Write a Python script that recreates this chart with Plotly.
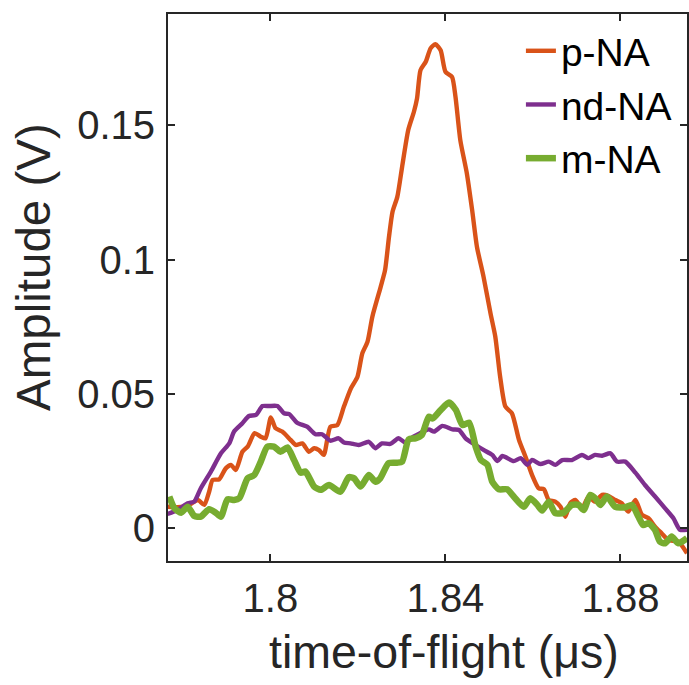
import plotly.graph_objects as go

# p-NA (orange)
p_x = [1.7765, 1.7788, 1.7811, 1.7834, 1.7849, 1.7860, 1.7868, 1.7883, 1.7898, 1.7910,
       1.7921, 1.7936, 1.7948, 1.7964, 1.7978, 1.7989, 1.8001, 1.8012, 1.8027, 1.8046,
       1.8058, 1.8073, 1.8088, 1.8100, 1.8111, 1.8122, 1.8137, 1.8153, 1.8168, 1.8184,
       1.8199, 1.8210, 1.8222, 1.8233, 1.8252, 1.8262, 1.8271, 1.8279, 1.8290, 1.8301,
       1.8315, 1.8328, 1.8335, 1.8343, 1.8355, 1.8366, 1.8377, 1.8389, 1.8400, 1.8415,
       1.8423, 1.8434, 1.8449, 1.8461, 1.8472, 1.8487, 1.8503, 1.8514, 1.8525, 1.8537,
       1.8552, 1.8568, 1.8583, 1.8598, 1.8613, 1.8625, 1.8636, 1.8651, 1.8663, 1.8674,
       1.8685, 1.8697, 1.8712, 1.8727, 1.8742, 1.8758, 1.8773, 1.8788, 1.8803, 1.8818,
       1.8834, 1.8849, 1.8864, 1.8879, 1.8894, 1.8909, 1.8932, 1.8952]
p_y = [0.0080, 0.0078, 0.0083, 0.0105, 0.0087, 0.0136, 0.0180, 0.0182, 0.0223, 0.0236,
       0.0217, 0.0285, 0.0304, 0.0354, 0.0341, 0.0335, 0.0413, 0.0372, 0.0360, 0.0329,
       0.0310, 0.0316, 0.0285, 0.0298, 0.0291, 0.0273, 0.0378, 0.0384, 0.0453, 0.0521,
       0.0564, 0.0651, 0.0695, 0.0788, 0.0899, 0.0961, 0.1085, 0.1178, 0.1234, 0.1346,
       0.1483, 0.1551, 0.1600, 0.1706, 0.1737, 0.1787, 0.1803, 0.1780, 0.1700, 0.1681,
       0.1606, 0.1445, 0.1321, 0.1185, 0.1048, 0.0937, 0.0800, 0.0713, 0.0564, 0.0453,
       0.0428, 0.0329, 0.0266, 0.0198, 0.0149, 0.0145, 0.0105, 0.0099, 0.0080, 0.0043,
       0.0093, 0.0105, 0.0074, 0.0118, 0.0099, 0.0124, 0.0120, 0.0105, 0.0093, 0.0062,
       0.0105, 0.0050, 0.0037, 0.0006, -0.0019, -0.0044, -0.0050, -0.0093]

# nd-NA (purple)
nd_x = [1.7765, 1.7788, 1.7811, 1.7826, 1.7841, 1.7864, 1.7887, 1.7906, 1.7917, 1.7936,
        1.7951, 1.7967, 1.7982, 1.7997, 1.8016, 1.8031, 1.8043, 1.8061, 1.8084, 1.8103,
        1.8118, 1.8137, 1.8156, 1.8168, 1.8183, 1.8202, 1.8225, 1.8240, 1.8255, 1.8274,
        1.8293, 1.8308, 1.8327, 1.8342, 1.8362, 1.8374, 1.8393, 1.8416, 1.8431, 1.8446,
        1.8469, 1.8488, 1.8507, 1.8519, 1.8530, 1.8556, 1.8572, 1.8587, 1.8598, 1.8617,
        1.8636, 1.8651, 1.8667, 1.8689, 1.8712, 1.8727, 1.8742, 1.8758, 1.8777, 1.8792,
        1.8811, 1.8834, 1.8856, 1.8879, 1.8902, 1.8921, 1.8936, 1.8952]
nd_y = [0.0053, 0.0068, 0.0093, 0.0099, 0.0149, 0.0211, 0.0279, 0.0316, 0.0360, 0.0391,
        0.0418, 0.0422, 0.0455, 0.0455, 0.0455, 0.0428, 0.0425, 0.0393, 0.0378, 0.0350,
        0.0350, 0.0326, 0.0335, 0.0319, 0.0316, 0.0310, 0.0322, 0.0298, 0.0316, 0.0314,
        0.0335, 0.0319, 0.0341, 0.0354, 0.0368, 0.0360, 0.0381, 0.0368, 0.0366, 0.0335,
        0.0310, 0.0291, 0.0273, 0.0250, 0.0269, 0.0250, 0.0261, 0.0236, 0.0254, 0.0239,
        0.0248, 0.0236, 0.0254, 0.0254, 0.0273, 0.0261, 0.0273, 0.0270, 0.0279, 0.0248,
        0.0248, 0.0207, 0.0161, 0.0118, 0.0074, 0.0037, -0.0006, -0.0006]

# m-NA (green)
m_x = [1.7769, 1.7781, 1.7796, 1.7811, 1.7826, 1.7841, 1.7860, 1.7875, 1.7887, 1.7902,
       1.7917, 1.7929, 1.7948, 1.7963, 1.7978, 1.7993, 1.8008, 1.8023, 1.8039, 1.8054,
       1.8069, 1.8080, 1.8100, 1.8115, 1.8134, 1.8160, 1.8179, 1.8191, 1.8206, 1.8225,
       1.8240, 1.8251, 1.8270, 1.8289, 1.8301, 1.8316, 1.8331, 1.8346, 1.8362, 1.8371,
       1.8389, 1.8408, 1.8424, 1.8439, 1.8454, 1.8469, 1.8481, 1.8496, 1.8507, 1.8522,
       1.8541, 1.8556, 1.8579, 1.8594, 1.8610, 1.8621, 1.8636, 1.8651, 1.8670, 1.8689,
       1.8704, 1.8716, 1.8731, 1.8742, 1.8754, 1.8769, 1.8788, 1.8811, 1.8826, 1.8841,
       1.8852, 1.8864, 1.8879, 1.8890, 1.8902, 1.8917, 1.8932, 1.8952]
m_y = [0.0118, 0.0074, 0.0058, 0.0080, 0.0046, 0.0043, 0.0071, 0.0058, 0.0043, 0.0108,
       0.0105, 0.0112, 0.0186, 0.0198, 0.0248, 0.0304, 0.0304, 0.0285, 0.0301, 0.0254,
       0.0207, 0.0211, 0.0155, 0.0143, 0.0161, 0.0136, 0.0190, 0.0186, 0.0155, 0.0198,
       0.0173, 0.0186, 0.0242, 0.0244, 0.0248, 0.0331, 0.0335, 0.0347, 0.0415, 0.0409,
       0.0440, 0.0468, 0.0440, 0.0384, 0.0393, 0.0304, 0.0254, 0.0236, 0.0173, 0.0145,
       0.0145, 0.0118, 0.0080, 0.0112, 0.0087, 0.0066, 0.0099, 0.0056, 0.0058, 0.0087,
       0.0087, 0.0068, 0.0124, 0.0112, 0.0087, 0.0118, 0.0080, 0.0078, 0.0087, 0.0043,
       0.0012, 0.0019, -0.0006, -0.0050, -0.0056, -0.0031, -0.0056, -0.0037]

x_ticks = [1.80, 1.84, 1.88]
x_tick_labels = ["1.8", "1.84", "1.88"]
y_ticks = [0, 0.05, 0.10, 0.15]
y_tick_labels = ["0", "0.05", "0.1", "0.15"]
x_title = "time-of-flight (μs)"
y_title = "Amplitude (V)"

FONT = "Liberation Sans, Arial, Helvetica, sans-serif"
AX = "#262626"

fig = go.Figure()
fig.add_trace(go.Scatter(x=p_x, y=p_y, mode="lines", name="p-NA",
                         line=dict(color="#D95319", width=4.4, shape="spline", smoothing=0.6)))
fig.add_trace(go.Scatter(x=nd_x, y=nd_y, mode="lines", name="nd-NA",
                         line=dict(color="#7E2F8E", width=4.4, shape="spline", smoothing=0.6)))
fig.add_trace(go.Scatter(x=m_x, y=m_y, mode="lines", name="m-NA",
                         line=dict(color="#77AC30", width=6.5, shape="spline", smoothing=0.6)))

fig.update_layout(
    width=689, height=685,
    margin=dict(l=168, r=0, t=14, b=124),
    paper_bgcolor="white", plot_bgcolor="white",
    font=dict(family=FONT, size=40, color=AX),
    showlegend=True,
    legend=dict(x=0.68, y=0.991, xanchor="left", yanchor="top",
                bgcolor="rgba(0,0,0,0)", borderwidth=0,
                font=dict(family=FONT, size=39, color="black"),
                tracegroupgap=0),
    xaxis=dict(range=[1.7766, 1.8952], tickvals=x_ticks, ticktext=x_tick_labels,
               showgrid=False, zeroline=False, showline=True, linecolor=AX, linewidth=2,
               mirror="ticks", ticks="inside", ticklen=7, tickwidth=1.5, tickcolor=AX,
               tickfont=dict(family=FONT, size=40, color=AX), ticklabelstandoff=1),
    yaxis=dict(range=[-0.0122, 0.1915], tickvals=y_ticks, ticktext=y_tick_labels,
               showgrid=False, zeroline=False, showline=True, linecolor=AX, linewidth=2,
               mirror="ticks", ticks="inside", ticklen=7, tickwidth=1.5, tickcolor=AX,
               tickfont=dict(family=FONT, size=40, color=AX), ticklabelstandoff=3),
    annotations=[
        dict(text=x_title, xref="paper", yref="paper", x=0.532, y=-0.1672,
             xanchor="center", yanchor="middle", showarrow=False,
             font=dict(family=FONT, size=46.5, color=AX)),
        dict(text=y_title, xref="paper", yref="paper", x=-0.2582, y=0.5375,
             xanchor="center", yanchor="middle", showarrow=False, textangle=-90,
             font=dict(family=FONT, size=47.5, color=AX)),
    ],
)

fig.write_html("out.html", config={"displayModeBar": False},
               post_script="document.body.style.margin='0';")
